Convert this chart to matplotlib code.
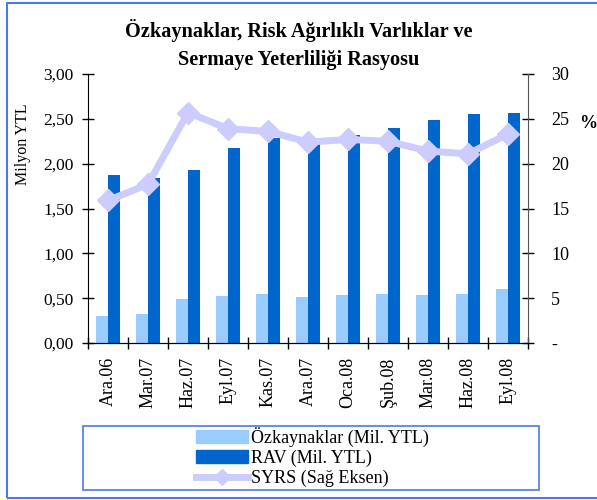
import matplotlib.pyplot as plt
import numpy as np
from matplotlib.patches import Rectangle
from matplotlib.lines import Line2D
from matplotlib.ticker import FuncFormatter

plt.rcParams["font.family"] = ["Liberation Serif", "DejaVu Serif"]

donemler = ["Ara.06", "Mar.07", "Haz.07", "Eyl.07", "Kas.07", "Ara.07",
            "Oca.08", "Şub.08", "Mar.08", "Haz.08", "Eyl.08"]
ozkaynaklar = [0.30, 0.32, 0.49, 0.52, 0.55, 0.51, 0.53, 0.55, 0.53, 0.55, 0.60]
rav = [1.87, 1.84, 1.93, 2.18, 2.29, 2.23, 2.32, 2.40, 2.49, 2.55, 2.57]
syrs = [15.9, 17.7, 25.7, 23.9, 23.6, 22.4, 22.7, 22.5, 21.4, 21.1, 23.3]

acik_mavi = "#99CCFF"
koyu_mavi = "#0066CC"
lila = "#CCCCFF"
cerceve = "#4A78F0"

fig = plt.figure(figsize=(5.97, 5.0), dpi=100)
ax = fig.add_axes([88 / 597, 1 - 343 / 500, 440 / 597, 269 / 500])
ax2 = ax.twinx()

x = np.arange(len(donemler))
w = 0.29
ax.bar(x - w / 2, ozkaynaklar, w, color=acik_mavi, zorder=2)
ax.bar(x + w / 2, rav, w, color=koyu_mavi, zorder=2)
ax2.plot(x, syrs, color=lila, lw=5, marker="D", ms=11, mec=lila, mfc=lila,
         solid_joinstyle="round")

ax.set_xlim(-0.5, len(donemler) - 0.5)
ax.set_ylim(0, 3)
ax2.set_ylim(0, 30)
ax.set_yticks(np.arange(0, 3.01, 0.5))
ax.yaxis.set_major_formatter(FuncFormatter(lambda v, p: f"{v:.2f}".replace(".", ",")))
ax2.set_yticks(np.arange(0, 31, 5))
ax2.yaxis.set_major_formatter(FuncFormatter(lambda v, p: "-" if v == 0 else f"{v:.0f}"))

# category ticks sit between the groups, labels at the centres
ax.set_xticks(np.arange(-0.5, len(donemler), 1))
ax.set_xticklabels([])
ax.set_xticks(x, minor=True)
ax.set_xticklabels(donemler, minor=True, rotation=90, fontsize=13)
ax.tick_params(axis="x", which="minor", length=0, pad=10)
ax.tick_params(axis="x", which="major", direction="inout", length=9, width=1)
ax.tick_params(axis="y", direction="inout", length=9, width=1, labelsize=12.5, pad=6)
ax2.tick_params(axis="y", direction="inout", length=9, width=1, labelsize=13, pad=12)

for a in (ax, ax2):
    a.spines["top"].set_visible(False)
ax.spines["right"].set_visible(False)
ax2.spines["left"].set_visible(False)
ax2.spines["right"].set_color("#555555")

ax.set_ylabel("Milyon YTL", fontsize=11.5)
ax.yaxis.set_label_coords(-57 / 440, 0.74)
fig.text(588 / 597, 1 - 123 / 500, "%", fontsize=13, fontweight="bold", ha="center", va="center")

fig.text(0.5, 1 - 30 / 500, "Özkaynaklar, Risk Ağırlıklı Varlıklar ve", fontsize=14.6,
         fontweight="bold", ha="center", va="center")
fig.text(0.5, 1 - 60 / 500, "Sermaye Yeterliliği Rasyosu", fontsize=14.6,
         fontweight="bold", ha="center", va="center")

handles = [Rectangle((0, 0), 1, 1, color=acik_mavi),
           Rectangle((0, 0), 1, 1, color=koyu_mavi),
           Line2D([], [], color=lila, lw=5, marker="D", ms=8, mec=lila, mfc=lila)]
labels = ["Özkaynaklar (Mil. YTL)", "RAV (Mil. YTL)", "SYRS (Sağ Eksen)"]
fig.legend(handles, labels, loc="center", bbox_to_anchor=(312 / 597, 1 - 457 / 500),
           frameon=False, fontsize=13, handlelength=2.9, handleheight=0.7,
           labelspacing=0.15, handletextpad=0.15, borderpad=0)
fig.patches.append(Rectangle((83 / 597, 1 - 490 / 500), 456 / 597, 64 / 500,
                             transform=fig.transFigure, fill=False, ec=cerceve, lw=1.2))
fig.patches.append(Rectangle((7 / 597, 1 - 498 / 500), 600 / 597, 495 / 500,
                             transform=fig.transFigure, fill=False, ec=cerceve, lw=1.5))

fig.savefig("out.png", dpi=100)
